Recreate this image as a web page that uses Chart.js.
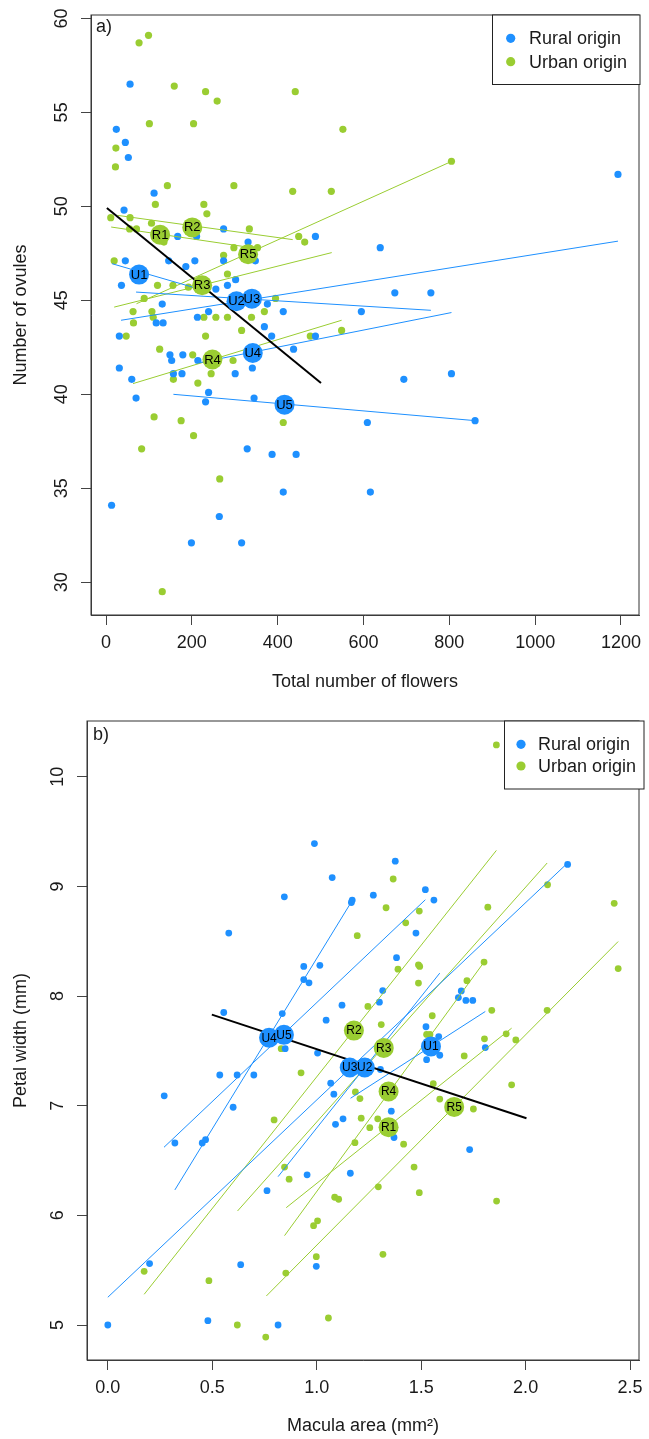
<!DOCTYPE html>
<html><head><meta charset="utf-8">
<script src="https://cdn.jsdelivr.net/npm/chart.js@4.4.1/dist/chart.umd.min.js"></script>
<style>
html,body{margin:0;padding:0;background:#fff;}
canvas{position:absolute;left:0;}
#ca{top:0;} #cb{top:700px;}
</style></head><body>
<canvas id="ca" width="649" height="700"></canvas>
<canvas id="cb" width="649" height="739"></canvas>
<script>
// ================= Panel a: flowers vs ovules =================
const aRuralFlowers = [56,24,45,52,112,42,167,211,274,331,488,45,146,207,274,348,186,36,302,283,256,131,239,213,376,413,369,117,133,1193,639,673,757,595,31,149,179,153,214,31,60,157,177,301,70,239,232,345,341,386,437,488,13,264,199,316,329,387,443,413,694,805,609,860,616];
const aRuralOvules = [56.5,54.1,53.4,52.6,50.7,49.8,48.4,48.4,48.8,48.1,48.4,47.1,47.1,47.1,47.1,47.1,46.8,45.8,46.1,45.8,45.6,44.8,44.4,44.1,44.8,44.4,43.6,43.8,43.8,51.7,47.8,45.4,45.4,44.4,43.1,42.1,42.1,41.8,41.8,41.4,40.8,41.1,41.1,41.1,39.8,40.1,39.6,39.8,41.4,43.1,42.4,43.1,34.1,33.5,32.1,32.1,37.1,36.8,36.8,34.8,40.8,41.1,38.5,38.6,34.8];
const aUrbanFlowers = [77,99,159,232,259,441,101,204,23,22,143,298,435,525,115,228,235,11,56,106,55,71,135,334,449,463,298,353,274,19,283,156,120,192,89,395,63,107,369,64,110,228,256,283,339,316,47,125,232,202,296,245,214,157,476,112,175,204,83,413,265,131,552,805,549];
const aUrbanOvules = [58.7,59.1,56.4,56.1,55.6,56.1,54.4,54.4,53.1,52.1,51.1,51.1,50.8,50.8,50.1,50.1,49.6,49.4,49.4,49.1,48.8,48.8,48.1,48.8,48.4,48.1,47.8,47.8,47.4,47.1,46.4,45.8,45.8,45.7,45.1,45.1,44.4,44.4,44.4,43.8,44.1,44.1,44.1,44.1,44.1,43.4,43.1,42.4,43.1,42.1,41.8,41.1,40.6,40.8,43.1,38.8,38.6,37.8,37.1,38.5,35.5,29.5,54.1,52.4,43.4];
const aRuralPopLabels = ['U1','U2','U3','U4','U5'];
const aRuralPopFlowers = [77,304,340,342,416];
const aRuralPopOvules = [46.37,44.95,45.09,42.2,39.45];
const aUrbanPopLabels = ['R1','R2','R3','R4','R5'];
const aUrbanPopFlowers = [126,201,224,248,331];
const aUrbanPopOvules = [48.49,48.88,45.8,41.85,47.45];
// fitted lines per population (start x, start y, end x, end y)
const aRuralFitX0 = [14,70,35,213,157];
const aRuralFitY0 = [46.95,45.44,43.94,41.66,40.0];
const aRuralFitX1 = [214,757,1193,805,860];
const aRuralFitY1 = [45.62,44.47,48.15,44.35,38.6];
const aUrbanFitX0 = [12,27,19,63,71];
const aUrbanFitY0 = [48.9,49.52,44.64,40.57,44.82];
const aUrbanFitX1 = [331,435,526,549,805];
const aUrbanFitY1 = [47.83,48.23,47.54,43.94,52.39];
const aOverallX = [2,501];
const aOverallY = [49.91,40.6];
const aXTicks = [0,200,400,600,800,1000,1200];
const aXTickLabels = ['0','200','400','600','800','1000','1200'];
const aYTicks = [30,35,40,45,50,55,60];
const aYTickLabels = ['30','35','40','45','50','55','60'];

// ================= Panel b: macula area vs petal width =================
const bRuralMacula = [0.989,0.845,0.579,0.938,1.015,0.938,0.963,0.555,0.835,1.045,1.004,0.849,0.536,0.619,0.699,1.376,1.074,1.271,1.52,1.561,1.17,1.166,1.475,1.382,1.316,1.3,1.121,1.692,1.678,1.714,1.747,1.523,1.584,1.589,1.526,1.305,2.201,1.807,1.067,1.082,1.126,1.09,1.357,1.37,1.732,1.161,0.27,0.6,0.321,0.452,0.468,0.762,0.954,0.2,0.636,0.998,0,0.479,0.815];
const bRuralPetal = [9.39,8.905,8.574,8.27,8.28,8.15,8.12,7.85,7.84,7.78,7.48,7.52,7.28,7.28,7.28,9.23,9.08,8.92,8.97,8.875,8.875,8.853,8.574,8.35,8.05,7.944,7.917,8.047,7.986,7.96,7.96,7.72,7.63,7.46,7.42,7.33,9.2,7.53,7.205,7.105,6.88,6.83,6.95,6.71,6.6,6.384,7.09,6.986,6.66,6.66,6.69,6.225,6.37,5.56,5.55,5.535,5.0,5.04,5.0];
const bUrbanMacula = [1.86,1.366,1.332,1.491,1.426,1.194,1.819,2.105,2.424,2.443,1.389,1.487,1.493,1.487,1.801,1.719,1.245,1.309,1.553,1.838,2.103,1.907,1.803,1.953,1.706,1.526,1.542,0.83,0.925,1.185,1.207,0.796,1.213,1.254,1.292,1.416,1.183,1.558,1.589,1.466,1.491,1.295,0.846,0.868,1.086,1.105,1.004,0.985,0.998,1.317,0.174,0.852,0.484,1.75,1.933,1.861,1.056,0.62,0.756];
const bUrbanPetal = [10.29,9.067,8.805,8.775,8.668,8.55,8.81,9.015,8.845,8.25,8.245,8.285,8.27,8.118,8.31,8.14,7.905,7.74,7.82,7.87,7.87,7.655,7.61,7.6,7.454,7.65,7.65,7.52,7.3,7.126,7.065,6.87,6.886,6.8,6.88,6.649,6.663,7.2,7.06,6.44,6.207,6.26,6.44,6.33,6.165,6.147,5.95,5.906,5.623,5.645,5.49,5.474,5.404,6.97,7.19,6.13,5.064,5.0,4.89];
const bRuralPopLabels = ['U1','U2','U3','U4','U5'];
const bRuralPopMacula = [1.547,1.23,1.158,0.772,0.843];
const bRuralPopPetal = [7.54,7.348,7.348,7.62,7.646];
const bUrbanPopLabels = ['R1','R2','R3','R4','R5'];
const bUrbanPopMacula = [1.344,1.178,1.321,1.344,1.658];
const bUrbanPopPetal = [6.804,7.685,7.527,7.129,6.989];
const bRuralFitX0 = [1.162,0.815,0,0.321,0.269];
const bRuralFitY0 = [7.068,6.353,5.253,6.232,6.621];
const bRuralFitX1 = [1.807,1.589,2.201,1.17,1.52];
const bRuralFitY1 = [7.859,8.209,9.213,8.871,8.878];
const bUrbanFitX0 = [0.854,0.174,0.621,0.846,0.759];
const bUrbanFitY0 = [6.07,5.28,6.04,5.815,5.265];
const bUrbanFitX1 = [1.933,1.86,2.103,1.803,2.443];
const bUrbanFitY1 = [7.707,9.328,9.213,8.315,8.497];
const bOverallX = [0.498,2.004];
const bOverallY = [7.83,6.886];
const bXTicks = [0,0.5,1,1.5,2,2.5];
const bXTickLabels = ['0.0','0.5','1.0','1.5','2.0','2.5'];
const bYTicks = [5,6,7,8,9,10];
const bYTickLabels = ['5','6','7','8','9','10'];

// ================= drawing =================
const BLUE = '#1E90FF', GREEN = '#9ACD32', AX = '#444', TXT = '#1a1a1a';
const FONT = "'Liberation Sans', Arial, Helvetica, sans-serif";
Chart.defaults.font.family = FONT;

function pts(xs, ys){ return xs.map((x,i)=>({x:x, y:ys[i]})); }
function fitLines(x0,y0,x1,y1,color,width,order){
  return x0.map((_,i)=>({data:[{x:x0[i],y:y0[i]},{x:x1[i],y:y1[i]}], showLine:true,
    borderColor:color, backgroundColor:color, borderWidth:width, pointRadius:0, order:order}));
}

const popLabelPlugin = {
  id:'popLabels',
  afterDatasetsDraw(chart, args, o){
    const c = chart.ctx;
    chart.data.datasets.forEach((d,i)=>{
      if(!d.popLabels) return;
      const meta = chart.getDatasetMeta(i);
      meta.data.forEach((el,j)=>{
        c.save(); c.font = o.size + 'px ' + FONT; c.fillStyle = '#000';
        c.textAlign='center'; c.textBaseline='middle';
        c.fillText(d.popLabels[j], el.x, el.y + 0.5);
        c.restore();
      });
    });
  }
};
const framePlugin = {
  id:'frame',
  afterDraw(chart){
    const a = chart.chartArea, c = chart.ctx;
    c.save(); c.strokeStyle = '#333'; c.lineWidth = 1;
    c.strokeRect(a.left, a.top, a.right - a.left, a.bottom - a.top);
    c.restore();
  }
};
const legendPlugin = {
  id:'rLegend',
  afterDraw(chart, args, o){
    const c = chart.ctx;
    c.save();
    c.fillStyle = '#fff'; c.fillRect(o.x0, o.y0, o.x1 - o.x0, o.y1 - o.y0);
    c.strokeStyle = '#222'; c.lineWidth = 1; c.strokeRect(o.x0, o.y0, o.x1 - o.x0, o.y1 - o.y0);
    c.font = '18px ' + FONT; c.textBaseline = 'middle'; c.textAlign = 'left';
    [0,1].forEach(k=>{
      const ds = chart.data.datasets[k];
      c.fillStyle = ds.backgroundColor; c.beginPath(); c.arc(o.dotX, o.rowY[k], o.dotR, 0, Math.PI*2); c.fill();
      c.fillStyle = TXT; c.fillText(ds.label, o.textX, o.rowY[k] + 1);
    });
    c.restore();
  }
};
const tagPlugin = {
  id:'panelTag',
  afterDraw(chart, args, o){
    const c = chart.ctx; c.save(); c.font = '18px ' + FONT; c.fillStyle = TXT;
    c.textAlign='left'; c.textBaseline='middle'; c.fillText(o.text, o.x, o.y); c.restore();
  }
};

function buildPanel(id, P){
  const datasets = [
    {label:'Rural origin', data:pts(P.rx,P.ry), backgroundColor:BLUE, borderWidth:0, pointRadius:P.pr, order:5},
    {label:'Urban origin', data:pts(P.ux,P.uy), backgroundColor:GREEN, borderWidth:0, pointRadius:P.pr, order:5},
    ...fitLines(P.rl[0],P.rl[1],P.rl[2],P.rl[3],BLUE,1,4),
    ...fitLines(P.ul[0],P.ul[1],P.ul[2],P.ul[3],GREEN,1,4),
    ...fitLines([P.all[0][0]],[P.all[1][0]],[P.all[0][1]],[P.all[1][1]],'#000',2,3),
    {popLabels:P.rLab, data:pts(P.rpx,P.rpy), backgroundColor:BLUE, borderWidth:0, pointRadius:10, order:1},
    {popLabels:P.uLab, data:pts(P.upx,P.upy), backgroundColor:GREEN, borderWidth:0, pointRadius:10, order:1}
  ];
  const zeroPad = s => { s.paddingLeft = 0; s.paddingRight = 0; s.paddingTop = 0; s.paddingBottom = 0; };
  return new Chart(document.getElementById(id), {
    type:'scatter',
    data:{datasets},
    options:{
      responsive:false, animation:false, devicePixelRatio:1, events:[],
      layout:{padding:{top:P.padTop, right:P.padRight, left:0, bottom:0}},
      plugins:{
        legend:{display:false}, tooltip:{enabled:false},
        rLegend:P.legend, panelTag:P.tag, popLabels:{size:P.labSize}
      },
      scales:{
        x:{type:'linear', position:'bottom', min:P.xMin, max:P.xMax,
          afterBuildTicks:s=>{ s.ticks = P.xTicks.map(v=>({value:v})); },
          afterFit:s=>{ s.height = P.xAxisH; zeroPad(s); },
          grid:{drawOnChartArea:false, drawTicks:true, tickLength:10, color:AX, lineWidth:1},
          border:{display:true, color:AX, width:1},
          ticks:{font:{size:18}, color:TXT, padding:7, maxRotation:0, minRotation:0, autoSkip:false,
                 callback:(v,i)=>P.xTickLabels[i]},
          title:{display:true, text:P.xTitle, font:{size:18}, color:TXT, padding:{top:0, bottom:P.xTitlePad}}
        },
        y:{type:'linear', position:'left', min:P.yMin, max:P.yMax,
          afterBuildTicks:s=>{ s.ticks = P.yTicks.map(v=>({value:v})); },
          afterFit:s=>{ s.width = P.yAxisW; zeroPad(s); },
          grid:{drawOnChartArea:false, drawTicks:true, tickLength:10, color:AX, lineWidth:1},
          border:{display:true, color:AX, width:1},
          ticks:{font:{size:18}, color:TXT, padding:9, minRotation:90, maxRotation:90, crossAlign:'center', autoSkip:false,
                 callback:(v,i)=>P.yTickLabels[i]},
          title:{display:true, text:P.yTitle, font:{size:18}, color:TXT, padding:{top:P.yTitlePad, bottom:0}}
        }
      }
    },
    plugins:[popLabelPlugin, framePlugin, legendPlugin, tagPlugin]
  });
}

buildPanel('ca', {
  rx:aRuralFlowers, ry:aRuralOvules, ux:aUrbanFlowers, uy:aUrbanOvules,
  rl:[aRuralFitX0,aRuralFitY0,aRuralFitX1,aRuralFitY1],
  ul:[aUrbanFitX0,aUrbanFitY0,aUrbanFitX1,aUrbanFitY1],
  all:[aOverallX,aOverallY],
  rLab:aRuralPopLabels, rpx:aRuralPopFlowers, rpy:aRuralPopOvules,
  uLab:aUrbanPopLabels, upx:aUrbanPopFlowers, upy:aUrbanPopOvules,
  pr:3.6, labSize:13,
  xMin:-35, xMax:1242, yMin:28.26, yMax:60.18,
  xTicks:aXTicks, xTickLabels:aXTickLabels, yTicks:aYTicks, yTickLabels:aYTickLabels,
  xTitle:'Total number of flowers', yTitle:'Number of ovules',
  padTop:15, padRight:9, xAxisH:85, yAxisW:91, xTitlePad:7.5, yTitlePad:10,
  legend:{x0:492.5, y0:15, x1:640, y1:84.5, dotX:510.7, dotR:4.6, textX:529, rowY:[38.3,61.7]},
  tag:{text:'a)', x:96, y:27}
});

buildPanel('cb', {
  rx:bRuralMacula, ry:bRuralPetal, ux:bUrbanMacula, uy:bUrbanPetal,
  rl:[bRuralFitX0,bRuralFitY0,bRuralFitX1,bRuralFitY1],
  ul:[bUrbanFitX0,bUrbanFitY0,bUrbanFitX1,bUrbanFitY1],
  all:[bOverallX,bOverallY],
  rLab:bRuralPopLabels, rpx:bRuralPopMacula, rpy:bRuralPopPetal,
  uLab:bUrbanPopLabels, upx:bUrbanPopMacula, upy:bUrbanPopPetal,
  pr:3.4, labSize:12,
  xMin:-0.0996, xMax:2.5427, yMin:4.681, yMax:10.508,
  xTicks:bXTicks, xTickLabels:bXTickLabels, yTicks:bYTicks, yTickLabels:bYTickLabels,
  xTitle:'Macula area (mm²)', yTitle:'Petal width (mm)',
  padTop:21, padRight:5, xAxisH:79, yAxisW:87, xTitlePad:2.2, yTitlePad:10,
  legend:{x0:504.5, y0:21, x1:644, y1:89, dotX:521, dotR:4.6, textX:538, rowY:[44.3,66]},
  tag:{text:'b)', x:93, y:35}
});
</script>
</body></html>
